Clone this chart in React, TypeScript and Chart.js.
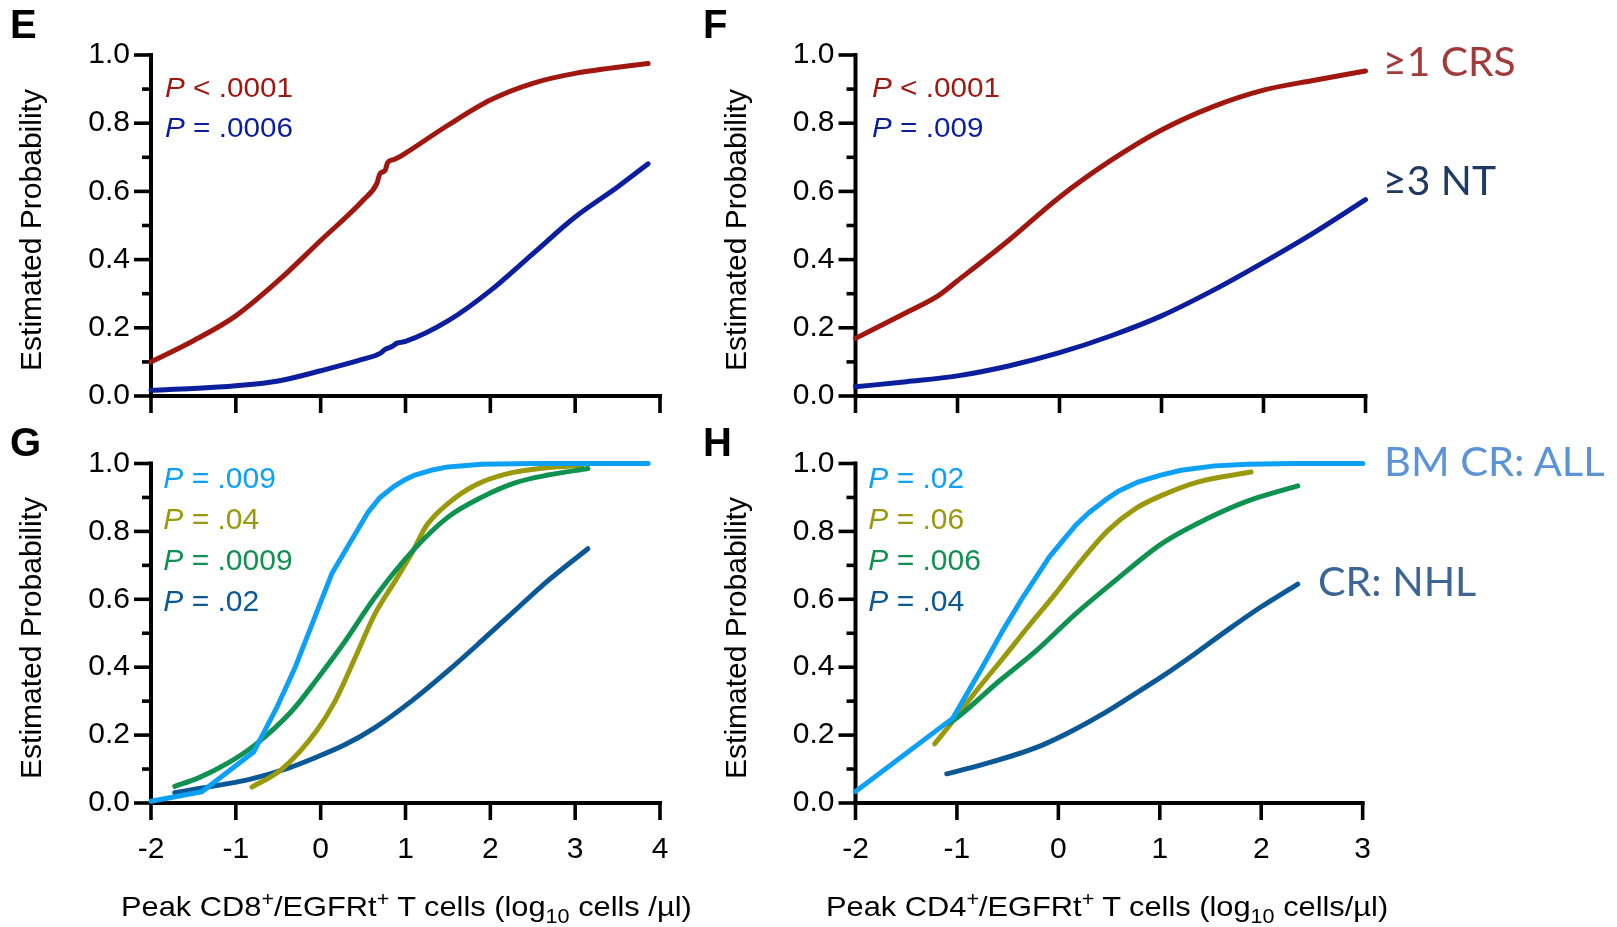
import React, { useEffect, useRef } from "react";
import { Chart, registerables } from "chart.js";
Chart.register(...registerables);

const FONT = '"Liberation Sans", Arial, Helvetica, sans-serif';
const LFONT = 'Lato, "Open Sans", "Noto Sans", sans-serif';

// ---------- data ----------
const cd8Range = [-2, 4];
const cd4Range = [-2, 3];
const yRange = [0, 1];

// Panel E (CD8)
const eCrsX = [-2, -1.5, -1, -0.5, 0, 0.5, 0.66, 0.7, 0.76, 0.79, 0.86, 0.92, 1, 1.5, 2, 2.5, 3, 3.86];
const eCrsY = [0.1, 0.162, 0.235, 0.338, 0.456, 0.574, 0.622, 0.652, 0.662, 0.685, 0.693, 0.7, 0.712, 0.794, 0.868, 0.917, 0.946, 0.975];
const eNtX = [-2, -1.5, -1, -0.5, 0, 0.5, 0.7, 0.76, 0.84, 0.9, 1, 1.5, 2, 2.5, 3, 3.5, 3.86];
const eNtY = [0.017, 0.022, 0.03, 0.044, 0.074, 0.108, 0.125, 0.137, 0.145, 0.155, 0.16, 0.22, 0.309, 0.417, 0.525, 0.613, 0.681];

// Panel F (CD4)
const fCrsX = [-2, -1.5, -1.2, -1, -0.5, 0, 0.5, 1, 1.5, 2, 2.5, 3];
const fCrsY = [0.169, 0.245, 0.292, 0.338, 0.456, 0.583, 0.69, 0.78, 0.848, 0.897, 0.926, 0.953];
const fNtX = [-2, -1.5, -1, -0.5, 0, 0.5, 1, 1.5, 2, 2.5, 3];
const fNtY = [0.027, 0.042, 0.059, 0.088, 0.127, 0.176, 0.235, 0.309, 0.392, 0.48, 0.576];

// Panel G (CD8)
const gLightBlueX = [-2.0, -1.4, -0.79, -0.52, -0.3, -0.07, 0.13, 0.33, 0.56, 0.7, 0.86, 1.0, 1.11, 1.3, 1.5, 1.9, 2.5, 3.86];
const gLightBlueY = [0.005, 0.033, 0.15, 0.28, 0.4, 0.547, 0.675, 0.76, 0.857, 0.9, 0.932, 0.953, 0.966, 0.98, 0.99, 0.998, 1.0, 1.0];
const gOliveX = [-0.81, -0.46, -0.05, 0.17, 0.41, 0.64, 0.88, 1.07, 1.25, 1.5, 1.82, 2.17, 2.68, 3.08];
const gOliveY = [0.047, 0.099, 0.212, 0.3, 0.43, 0.557, 0.655, 0.734, 0.818, 0.882, 0.936, 0.968, 0.988, 0.995];
const gGreenX = [-1.72, -1.44, -1.09, -0.77, -0.34, -0.03, 0.25, 0.64, 1.07, 1.5, 1.9, 2.29, 2.68, 3.15];
const gGreenY = [0.049, 0.074, 0.118, 0.172, 0.271, 0.369, 0.463, 0.606, 0.739, 0.842, 0.901, 0.943, 0.966, 0.985];
const gDarkBlueX = [-1.72, -1.4, -0.85, -0.38, -0.07, 0.29, 0.64, 1.07, 1.5, 1.9, 2.29, 2.68, 3.15];
const gDarkBlueY = [0.03, 0.044, 0.069, 0.103, 0.133, 0.172, 0.222, 0.3, 0.389, 0.478, 0.567, 0.655, 0.749];

// Panel H (CD4)
const hLightBlueX = [-2.0, -1.04, -0.75, -0.55, -0.35, -0.09, 0.05, 0.17, 0.3, 0.46, 0.6, 0.79, 1.0, 1.21, 1.54, 1.87, 2.3, 3.0];
const hLightBlueY = [0.034, 0.25, 0.4, 0.507, 0.606, 0.724, 0.775, 0.818, 0.855, 0.892, 0.92, 0.946, 0.965, 0.98, 0.993, 0.998, 1.0, 1.0];
const hOliveX = [-1.22, -1.04, -0.81, -0.55, -0.29, -0.03, 0.2, 0.49, 0.76, 1.02, 1.38, 1.9];
const hOliveY = [0.174, 0.241, 0.33, 0.425, 0.522, 0.616, 0.704, 0.803, 0.867, 0.906, 0.946, 0.975];
const hGreenX = [-1.08, -1.0, -0.58, -0.22, 0.17, 0.56, 1.02, 1.47, 1.87, 2.36];
const hGreenY = [0.235, 0.251, 0.36, 0.448, 0.557, 0.655, 0.764, 0.838, 0.89, 0.934];
const hDarkBlueX = [-1.1, -0.75, -0.22, 0.1, 0.43, 0.72, 1.02, 1.34, 1.67, 2.0, 2.36];
const hDarkBlueY = [0.086, 0.113, 0.163, 0.207, 0.261, 0.315, 0.372, 0.438, 0.51, 0.578, 0.645];

// p-value labels
const ePvals = ["< .0001", "= .0006"];
const fPvals = ["< .0001", "= .009"];
const gPvals = ["= .009", "= .04", "= .0009", "= .02"];
const hPvals = ["= .02", "= .06", "= .006", "= .04"];

// ---------- colors ----------
const RED = "#A0170F";
const NAVY = "#0B1F9E";
const LBLUE = "#0CA0F6";
const OLIVE = "#9A990B";
const GREEN = "#0F9150";
const DBLUE = "#0B5896";

const axisPlugin = {
  id: "prismAxes",
  beforeDatasetsDraw(chart: any) {
    const { ctx, scales } = chart;
    const x = scales.x;
    const y = scales.y;
    const lw = 4;
    ctx.save();
    ctx.strokeStyle = "#000";
    ctx.lineWidth = lw;
    ctx.lineCap = "butt";
    const x0 = x.getPixelForValue(x.min);
    const x1 = x.getPixelForValue(x.max);
    const y0 = y.getPixelForValue(y.min);
    const y1 = y.getPixelForValue(y.max);
    ctx.beginPath();
    ctx.moveTo(x0, y0 + lw / 2);
    ctx.lineTo(x0, y1 - lw / 2);
    ctx.stroke();
    ctx.beginPath();
    ctx.moveTo(x0 - lw / 2, y0);
    ctx.lineTo(x1 + lw / 2, y0);
    ctx.stroke();
    ctx.lineWidth = 3.6;
    y.ticks.forEach((t: any) => {
      const py = y.getPixelForValue(t.value);
      const major = Math.round(t.value * 10) % 2 === 0;
      const len = major ? 17 : 9;
      ctx.beginPath();
      ctx.moveTo(x0, py);
      ctx.lineTo(x0 - len, py);
      ctx.stroke();
    });
    x.ticks.forEach((t: any) => {
      const px = x.getPixelForValue(t.value);
      ctx.beginPath();
      ctx.moveTo(px, y0);
      ctx.lineTo(px, y0 + 17);
      ctx.stroke();
    });
    ctx.restore();
  },
};

type Series = { xs: number[]; ys: number[]; color: string; straight?: boolean };
type PanelCfg = {
  left: number;
  top: number;
  w: number;
  h: number;
  area: { l: number; t: number; r: number; b: number };
  xRange: number[];
  showX: boolean;
  series: Series[];
};

function Panel({ cfg }: { cfg: PanelCfg }) {
  const ref = useRef<HTMLCanvasElement | null>(null);
  useEffect(() => {
    const { left, top, w, h, area } = cfg;
    const yw = area.l - left;
    const xh = top + h - area.b;
    const chart = new Chart(ref.current as HTMLCanvasElement, {
      type: "line",
      data: {
        datasets: cfg.series.map((s) => ({
          data: s.xs.map((x, i) => ({ x, y: s.ys[i] })),
          borderColor: s.color,
          backgroundColor: s.color,
          borderWidth: 5,
          pointRadius: 0,
          tension: 0,
          cubicInterpolationMode: s.straight ? "default" : "monotone",
          borderCapStyle: "round",
          borderJoinStyle: "round",
          fill: false,
          clip: false,
        })) as any,
      },
      options: {
        animation: false,
        responsive: false,
        devicePixelRatio: 1,
        events: [],
        layout: { padding: { left: 0, top: area.t - top, right: left + w - area.r, bottom: 0 } },
        plugins: { legend: { display: false }, tooltip: { enabled: false } },
        scales: {
          x: {
            type: "linear",
            min: cfg.xRange[0],
            max: cfg.xRange[1],
            grid: { display: false, drawTicks: false },
            border: { display: false },
            ticks: {
              display: cfg.showX,
              stepSize: 1,
              autoSkip: false,
              maxRotation: 0,
              padding: 29,
              color: "#000",
              font: { family: FONT, size: 30 },
              callback: (v: any) => String(v),
            },
            afterFit: (s: any) => {
              s.height = xh;
            },
          },
          y: {
            type: "linear",
            min: yRange[0],
            max: yRange[1],
            grid: { display: false, drawTicks: false },
            border: { display: false },
            ticks: {
              stepSize: 0.1,
              autoSkip: false,
              padding: 21,
              color: "#000",
              font: { family: FONT, size: 30 },
              callback: (v: any) => (Math.round(Number(v) * 10) % 2 === 0 ? Number(v).toFixed(1) : ""),
            },
            afterFit: (s: any) => {
              s.width = yw;
            },
          },
        },
      } as any,
      plugins: [axisPlugin],
    });
    return () => chart.destroy();
  }, []);
  return (
    <canvas
      ref={ref}
      width={cfg.w}
      height={cfg.h}
      style={{ position: "absolute", left: cfg.left, top: cfg.top, width: cfg.w, height: cfg.h }}
    />
  );
}

// text placed by its baseline
function T(props: {
  x: number;
  base: number;
  fs: number;
  color?: string;
  family?: string;
  weight?: string | number;
  sx?: number;
  k?: number;
  children: React.ReactNode;
}) {
  const k = props.k ?? 0.8465;
  return (
    <div
      style={{
        position: "absolute",
        left: props.x,
        top: props.base - k * props.fs,
        fontSize: props.fs,
        lineHeight: `${props.fs}px`,
        fontFamily: props.family ?? FONT,
        fontWeight: props.weight ?? "normal",
        color: props.color ?? "#000",
        whiteSpace: "nowrap",
        transform: `scaleX(${props.sx ?? 1})`,
        transformOrigin: "0 0",
      }}
    >
      {props.children}
    </div>
  );
}

function YTitle({ cx, cy }: { cx: number; cy: number }) {
  return (
    <div
      style={{
        position: "absolute",
        left: cx,
        top: cy,
        fontFamily: FONT,
        fontSize: 30,
        lineHeight: "30px",
        whiteSpace: "nowrap",
        color: "#000",
        transform: "translate(-50%, -50%) rotate(-90deg)",
      }}
    >
      Estimated Probability
    </div>
  );
}

const panels: PanelCfg[] = [
  {
    left: 0, top: 0, w: 700, h: 460,
    area: { l: 151, t: 55, r: 660, b: 396 },
    xRange: cd8Range, showX: false,
    series: [
      { xs: eCrsX, ys: eCrsY, color: RED },
      { xs: eNtX, ys: eNtY, color: NAVY },
    ],
  },
  {
    left: 700, top: 0, w: 700, h: 460,
    area: { l: 855.5, t: 55, r: 1365.5, b: 396 },
    xRange: cd4Range, showX: false,
    series: [
      { xs: fCrsX, ys: fCrsY, color: RED },
      { xs: fNtX, ys: fNtY, color: NAVY },
    ],
  },
  {
    left: 0, top: 420, w: 700, h: 507,
    area: { l: 151, t: 463.5, r: 660, b: 803 },
    xRange: cd8Range, showX: true,
    series: [
      { xs: gLightBlueX, ys: gLightBlueY, color: LBLUE, straight: true },
      { xs: gGreenX, ys: gGreenY, color: GREEN },
      { xs: gOliveX, ys: gOliveY, color: OLIVE },
      { xs: gDarkBlueX, ys: gDarkBlueY, color: DBLUE },
    ],
  },
  {
    left: 700, top: 420, w: 700, h: 507,
    area: { l: 855.5, t: 463.5, r: 1365.5, b: 803 },
    xRange: cd4Range, showX: true,
    series: [
      { xs: hLightBlueX, ys: hLightBlueY, color: LBLUE, straight: true },
      { xs: hGreenX, ys: hGreenY, color: GREEN },
      { xs: hOliveX, ys: hOliveY, color: OLIVE },
      { xs: hDarkBlueX, ys: hDarkBlueY, color: DBLUE },
    ],
  },
];

function PLabel({ x, base, fs, sx, color, text }: { x: number; base: number; fs: number; sx: number; color: string; text: string }) {
  return (
    <T x={x} base={base} fs={fs} sx={sx} color={color}>
      <i>P</i> {text}
    </T>
  );
}

const supStyle = { fontSize: "0.7em", lineHeight: 0 };

export default function App() {
  const gColors = [LBLUE, OLIVE, GREEN, DBLUE];
  return (
    <div style={{ position: "absolute", left: 0, top: 0, width: 1617, height: 927, background: "#fff", overflow: "hidden" }}>
      {panels.map((p, i) => (
        <Panel key={i} cfg={p} />
      ))}

      {/* panel letters */}
      <T x={10} base={38} fs={40} weight="bold">E</T>
      <T x={703} base={38} fs={40} weight="bold">F</T>
      <T x={10} base={456} fs={40} weight="bold">G</T>
      <T x={703} base={456} fs={40} weight="bold">H</T>

      {/* y titles */}
      <YTitle cx={31} cy={230} />
      <YTitle cx={736} cy={230} />
      <YTitle cx={31} cy={638} />
      <YTitle cx={736} cy={638} />

      {/* p-values */}
      {ePvals.map((t, i) => (
        <PLabel key={"e" + i} x={165} base={98.3 + i * 40} fs={27} sx={1.1} color={i === 0 ? RED : NAVY} text={t} />
      ))}
      {fPvals.map((t, i) => (
        <PLabel key={"f" + i} x={871.5} base={98.3 + i * 40} fs={27} sx={1.1} color={i === 0 ? RED : NAVY} text={t} />
      ))}
      {gPvals.map((t, i) => (
        <PLabel key={"g" + i} x={163.3} base={488.3 + i * 41} fs={30} sx={1} color={gColors[i]} text={t} />
      ))}
      {hPvals.map((t, i) => (
        <PLabel key={"h" + i} x={868.3} base={488.3 + i * 41} fs={30} sx={1} color={gColors[i]} text={t} />
      ))}

      {/* outcome labels */}
      <T x={1382.7} base={76} fs={40} sx={1.02} family={LFONT} k={0.887} color="#A33A3A">≥1 CRS</T>
      <T x={1382.7} base={195} fs={40} sx={1.02} family={LFONT} k={0.887} color="#1E3A63">≥3 NT</T>
      <T x={1384} base={476.7} fs={40} sx={1.04} family={LFONT} k={0.887} color="#5A94D6">BM CR: ALL</T>
      <T x={1318.3} base={596.7} fs={40} sx={1.03} family={LFONT} k={0.887} color="#3C6596">CR: NHL</T>

      {/* x titles */}
      <T x={120.7} base={917} fs={28} sx={1.1}>
        Peak CD8<sup style={supStyle}>+</sup>/EGFRt<sup style={supStyle}>+</sup> T cells (log<sub style={supStyle}>10</sub> cells /µl)
      </T>
      <T x={826} base={917} fs={28} sx={1.1}>
        Peak CD4<sup style={supStyle}>+</sup>/EGFRt<sup style={supStyle}>+</sup> T cells (log<sub style={supStyle}>10</sub> cells/µl)
      </T>
    </div>
  );
}
